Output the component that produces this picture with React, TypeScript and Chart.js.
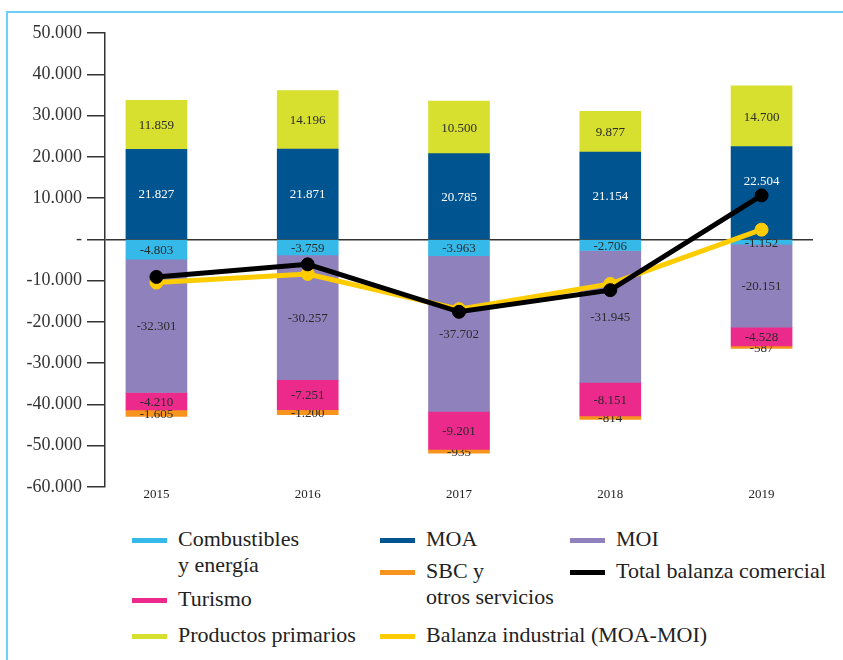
import React, { useEffect, useRef } from "react";
import { Chart, registerables } from "chart.js";

Chart.register(...registerables);

const YEARS = ["2015", "2016", "2017", "2018", "2019"];
const COMBUSTIBLES = [-4803, -3759, -3963, -2706, -1152];
const MOA = [21827, 21871, 20785, 21154, 22504];
const MOI = [-32301, -30257, -37702, -31945, -20151];
const TURISMO = [-4210, -7251, -9201, -8151, -4528];
const SBC = [-1605, -1200, -935, -814, -587];
// bar heights as drawn in the picture, and the values printed on them
const PRIMARIOS = [11859, 14196, 12750, 9877, 14700];
const PRIMARIOS_PRINTED = [11859, 14196, 10500, 9877, 14700];
const TOTAL = [-9100, -6050, -17550, -12300, 10650];
const INDUSTRIAL = [-10474, -8386, -16917, -10791, 2353];
const Y_TICK_STEP = 10000;
const Y_MIN = -60000;
const Y_MAX = 50000;

const C_COMB = "#35b9e9";
const C_MOA = "#00548f";
const C_MOI = "#8f82bc";
const C_SBC = "#f7941d";
const C_TUR = "#ec2a8c";
const C_PRIM = "#d7df2f";
const C_TOTAL = "#000000";
const C_IND = "#ffcc00";

const SERIF = '"Liberation Serif", "Times New Roman", serif';

const LEGEND_ITEMS = [
  { label: "Combustibles\ny energía", color: C_COMB },
  { label: "MOA", color: C_MOA },
  { label: "MOI", color: C_MOI },
  { label: "SBC y\notros servicios", color: C_SBC },
  { label: "Total balanza comercial", color: C_TOTAL },
  { label: "Turismo", color: C_TUR },
  { label: "Productos primarios", color: C_PRIM },
  { label: "Balanza industrial (MOA-MOI)", color: C_IND },
];
// layout positions (left of swatch, center y of first line)
const LEGEND_POS = [
  [132, 540],
  [380, 540],
  [570, 540],
  [380, 572],
  [570, 572],
  [132, 600],
  [132, 636],
  [380, 636],
];
// pixel nudges for individual segment labels: "dataset label|index" -> dy
const LABEL_NUDGE: Record<string, number> = { "MOA|4": -12 };

function fmt(v: number): string {
  const s = Math.abs(Math.round(v))
    .toString()
    .replace(/\B(?=(\d{3})+(?!\d))/g, ".");
  return (v < 0 ? "-" : "") + s;
}

const toPts = (arr: number[]) => arr.map((y, i) => ({ x: i, y }));

const segLabels = {
  id: "segLabels",
  afterDatasetDraw(chart: any, args: any) {
    const ds: any = chart.data.datasets[args.index];
    if (ds.type !== "bar") return;
    const ctx = chart.ctx;
    ctx.save();
    ctx.font = `13px ${SERIF}`;
    ctx.textAlign = "center";
    ctx.textBaseline = "middle";
    ctx.fillStyle = ds.labelColor || "#2b2b2b";
    args.meta.data.forEach((el: any, i: number) => {
      const p = el.getProps(["x", "y", "base"], true);
      const v = ds.printed ? ds.printed[i] : ds.data[i].y;
      const dy = LABEL_NUDGE[ds.label + "|" + i] || 0;
      ctx.fillText(fmt(v), p.x, (p.y + p.base) / 2 + 1 + dy);
    });
    ctx.restore();
  },
};

export default function App() {
  const ref = useRef<HTMLCanvasElement>(null);

  useEffect(() => {
    if (!ref.current) return;
    const barDs = (
      label: string,
      data: number[],
      color: string,
      labelColor = "#2b2b2b",
      printed?: number[]
    ) => ({
      type: "bar" as const,
      label,
      data: toPts(data),
      backgroundColor: color,
      borderWidth: 0,
      barThickness: 61,
      stack: "bars",
      order: 2,
      labelColor,
      printed,
    });
    const lineDs = (label: string, data: number[], color: string, order: number) => ({
      type: "line" as const,
      label,
      data: toPts(data),
      borderColor: color,
      backgroundColor: color,
      borderWidth: 5,
      pointRadius: 6.5,
      pointBorderWidth: 1,
      pointBackgroundColor: color,
      pointBorderColor: color,
      tension: 0,
      stack: "line" + order,
      order,
    });
    const chart = new Chart(ref.current, {
      type: "bar",
      data: {
        datasets: [
          barDs("Combustibles y energía", COMBUSTIBLES, C_COMB),
          barDs("MOA", MOA, C_MOA, "#ffffff"),
          barDs("MOI", MOI, C_MOI),
          barDs("Turismo", TURISMO, C_TUR),
          barDs("SBC y otros servicios", SBC, C_SBC),
          barDs("Productos primarios", PRIMARIOS, C_PRIM, "#2b2b2b", PRIMARIOS_PRINTED),
          lineDs("Balanza industrial (MOA-MOI)", INDUSTRIAL, C_IND, 1),
          lineDs("Total balanza comercial", TOTAL, C_TOTAL, 0),
        ] as any,
      },
      options: {
        animation: false,
        responsive: false,
        layout: { padding: { top: 33, right: 30, left: 0, bottom: 0 } },
        plugins: { legend: { display: false }, tooltip: { enabled: false } },
        scales: {
          x: {
            type: "linear",
            min: -0.34,
            max: 4.34,
            offset: false,
            stacked: true,
            grid: { display: false, drawTicks: false, offset: false },
            border: { display: false },
            afterBuildTicks: (s: any) => {
              s.ticks = YEARS.map((_, i) => ({ value: i }));
            },
            afterFit: (s: any) => {
              s.height = 33;
            },
            ticks: {
              autoSkip: false,
              maxRotation: 0,
              padding: 0,
              color: "#222",
              font: { family: SERIF, size: 13 },
              callback: (v: any) => YEARS[Math.round(Number(v))] ?? "",
            },
          },
          y: {
            stacked: true,
            min: Y_MIN,
            max: Y_MAX,
            afterFit: (s: any) => {
              s.width = 105;
            },
            grid: {
              drawOnChartArea: true,
              tickLength: 18,
              lineWidth: 1.5,
              color: (c: any) => (c.tick && c.tick.value === 0 ? "#333" : "rgba(0,0,0,0)"),
              tickColor: "#333",
              tickWidth: 1.5,
            },
            border: { display: true, color: "#333", width: 1.5 },
            ticks: {
              stepSize: Y_TICK_STEP,
              padding: 5,
              color: "#333",
              font: { family: SERIF, size: 18 },
              callback: (v: any) => (Number(v) === 0 ? "-" : fmt(Number(v))),
            },
          },
        },
      },
      plugins: [segLabels],
    });
    return () => chart.destroy();
  }, []);

  return (
    <div
      style={{
        position: "fixed",
        left: 0,
        top: 0,
        width: 843,
        height: 660,
        background: "#fff",
        overflow: "hidden",
        fontFamily: SERIF,
      }}
    >
      <div
        style={{
          position: "absolute",
          left: 6,
          top: 11,
          right: 0,
          bottom: 0,
          borderTop: "2.5px solid #6dcff6",
          borderLeft: "2px solid #6dcff6",
        }}
      />
      <canvas ref={ref} width={843} height={520} style={{ position: "absolute", left: 0, top: 0, display: "block" }} />
      {LEGEND_ITEMS.map((it, i) => {
        const [lx, cy] = LEGEND_POS[i];
        return (
          <div key={it.label} style={{ position: "absolute", left: lx, top: cy - 14 }}>
            <div
              style={{
                position: "absolute",
                left: 0,
                top: 12,
                width: 35,
                height: 5,
                background: it.color,
              }}
            />
            <div
              style={{
                position: "absolute",
                left: 46,
                top: 0,
                whiteSpace: "pre",
                fontFamily: "'Liberation Serif', serif",
                fontSize: 22,
                lineHeight: "26px",
                color: "#222",
              }}
            >
              {it.label}
            </div>
          </div>
        );
      })}
    </div>
  );
}
